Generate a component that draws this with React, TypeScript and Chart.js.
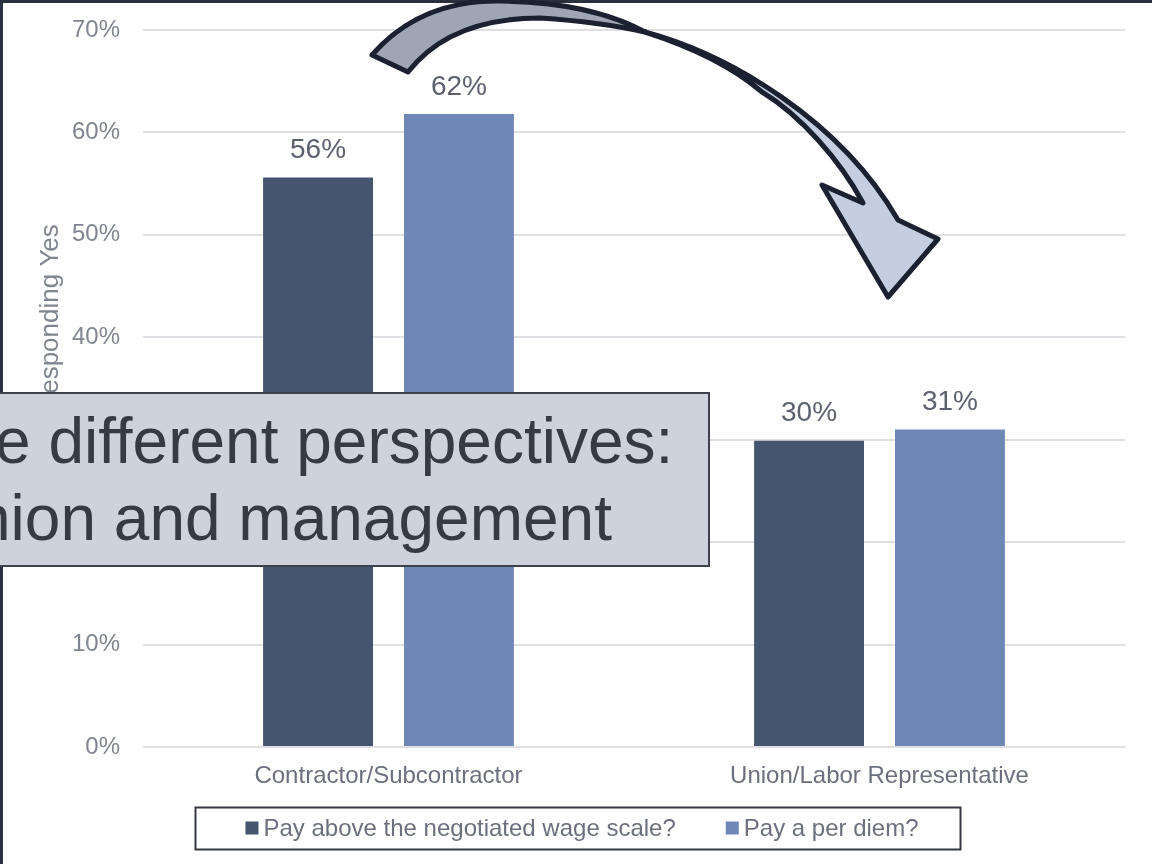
import React, { useEffect, useRef } from 'react';
import { Chart, registerables } from 'chart.js';

Chart.register(...registerables);

// ---- Data ----
const categories = ['Contractor/Subcontractor', 'Union/Labor Representative'];
const seriesNames = ['Pay above the negotiated wage scale?', 'Pay a per diem?'];
const wageScaleValues = [55.6, 29.9];
const perDiemValues = [61.8, 31.0];
const yTickValues = [0, 10, 20, 30, 40, 50, 60, 70];
const yAxisTitle = 'Percentage Responding Yes';
const overlayLines = ['e different perspectives:', 'nion and management'];
const seriesColors = ['#45556F', '#6E87B7'];

const FONT = '"Liberation Sans", Arial, Helvetica, sans-serif';

const dataLabelPlugin = {
  id: 'dataLabels',
  afterDatasetsDraw(chart: any) {
    const ctx = chart.ctx;
    ctx.save();
    ctx.font = `28px ${FONT}`;
    ctx.fillStyle = '#5c616d';
    ctx.textAlign = 'center';
    ctx.textBaseline = 'middle';
    chart.data.datasets.forEach((ds: any, i: number) => {
      const meta = chart.getDatasetMeta(i);
      meta.data.forEach((el: any, j: number) => {
        ctx.fillText(Math.round(ds.data[j]) + '%', el.x, el.y - 27);
      });
    });
    ctx.restore();
  },
};

const boxedLegendPlugin = {
  id: 'boxedLegend',
  afterDraw(chart: any) {
    const ctx = chart.ctx;
    ctx.save();
    ctx.font = `24px ${FONT}`;
    const ds = chart.data.datasets;
    const marker = 13;
    const gapText = 5;
    const gapItem = 50;
    const widths = ds.map((d: any) => ctx.measureText(d.label).width);
    let total = 0;
    widths.forEach((w: number, i: number) => {
      total += marker + gapText + w + (i < widths.length - 1 ? gapItem : 0);
    });
    const cy = chart.height - 36;
    const startX = chart.width / 2 + 6 - total / 2;
    const endX = startX + total;
    ctx.strokeStyle = '#34383f';
    ctx.lineWidth = 2;
    ctx.strokeRect(Math.round(startX - 50) + 0.5, cy - 21 + 0.5, Math.round(endX + 42 - (startX - 50)), 42);
    let x = startX;
    ctx.textBaseline = 'middle';
    ctx.textAlign = 'left';
    ds.forEach((d: any, i: number) => {
      ctx.fillStyle = d.backgroundColor;
      ctx.fillRect(x, cy - marker / 2, marker, marker);
      x += marker + gapText;
      ctx.fillStyle = '#6b707c';
      ctx.fillText(d.label, x, cy + 1);
      x += widths[i] + gapItem;
    });
    ctx.restore();
  },
};

export default function App() {
  const canvasRef = useRef<HTMLCanvasElement | null>(null);

  useEffect(() => {
    if (!canvasRef.current) return;
    Chart.defaults.font.family = FONT;
    const chart = new Chart(canvasRef.current, {
      type: 'bar',
      data: {
        labels: categories,
        datasets: [
          {
            label: seriesNames[0],
            data: wageScaleValues,
            backgroundColor: seriesColors[0],
            barPercentage: 0.78,
            categoryPercentage: 0.574,
          },
          {
            label: seriesNames[1],
            data: perDiemValues,
            backgroundColor: seriesColors[1],
            barPercentage: 0.78,
            categoryPercentage: 0.574,
          },
        ],
      },
      options: {
        animation: false,
        responsive: false,
        devicePixelRatio: 1,
        layout: { padding: { left: 0, right: 27, top: 30, bottom: 67 } },
        plugins: {
          legend: { display: false },
          tooltip: { enabled: false },
        },
        scales: {
          x: {
            grid: { display: false, drawTicks: false },
            border: { display: false },
            ticks: { font: { size: 24 }, color: '#6b707c', padding: 15 },
            afterFit: (s: any) => {
              s.height = 50;
            },
          },
          y: {
            min: 0,
            max: 70,
            grid: { color: '#dedee3', lineWidth: 2, drawTicks: false },
            border: { display: false },
            afterBuildTicks: (s: any) => {
              s.ticks = yTickValues.map((v) => ({ value: v }));
            },
            ticks: {
              padding: 23,
              font: { size: 24 },
              color: '#80858f',
              callback: (v: any) => v + '%',
            },
            title: {
              display: true,
              text: yAxisTitle,
              font: { size: 26 },
              color: '#80858f',
              padding: { top: 35, bottom: 0 },
            },
            afterFit: (s: any) => {
              s.width = 143;
              s.paddingTop = 0;
              s.paddingBottom = 0;
            },
          },
        },
      },
      plugins: [dataLabelPlugin, boxedLegendPlugin],
    });
    return () => chart.destroy();
  }, []);

  const stroke = '#1b2130';
  const textStyle = {
    position: 'absolute' as const,
    fontSize: 64,
    lineHeight: '64px',
    color: '#353a45',
    whiteSpace: 'nowrap' as const,
  };

  return (
    <div
      style={{
        position: 'absolute',
        left: 0,
        top: 0,
        width: 1152,
        height: 864,
        overflow: 'hidden',
        background: '#ffffff',
        fontFamily: FONT,
      }}
    >
      <canvas ref={canvasRef} width={1152} height={864} style={{ position: 'absolute', left: 0, top: 0, width: 1152, height: 864 }} />
      {/* slide frame */}
      <div style={{ position: 'absolute', left: 0, top: 0, width: 1152, height: 3, background: '#2a303d' }} />
      <div style={{ position: 'absolute', left: 0, top: 0, width: 3, height: 864, background: '#2a3344' }} />
      {/* curved arrow annotation */}
      <svg width={1152} height={864} style={{ position: 'absolute', left: 0, top: 0, pointerEvents: 'none' }}>
        <path
          d="M 372 55 Q 420 0 500 1 Q 590 2 645 32 Q 600 22 540 18 Q 450 18 408 72 Z"
          fill="#9ea6b5"
          stroke={stroke}
          strokeWidth={5}
          strokeLinejoin="round"
        />
        <path
          d="M 645 32 C 730 55 840 120 898 220 L 938 239 L 888 297 L 822 185 L 863 203 C 840 160 800 115 762 92 Q 720 56 645 32 Z"
          fill="#c4cee0"
          stroke={stroke}
          strokeWidth={5}
          strokeLinejoin="round"
        />
      </svg>
      {/* overlay text box */}
      <div
        style={{
          position: 'absolute',
          left: -10,
          top: 392,
          width: 716,
          height: 171,
          background: '#cdd2dc',
          border: '2px solid #3c414b',
        }}
      />
      <div style={{ ...textStyle, left: -5, top: 409 }}>{overlayLines[0]}</div>
      <div style={{ ...textStyle, left: -25, top: 486 }}>{overlayLines[1]}</div>
    </div>
  );
}
